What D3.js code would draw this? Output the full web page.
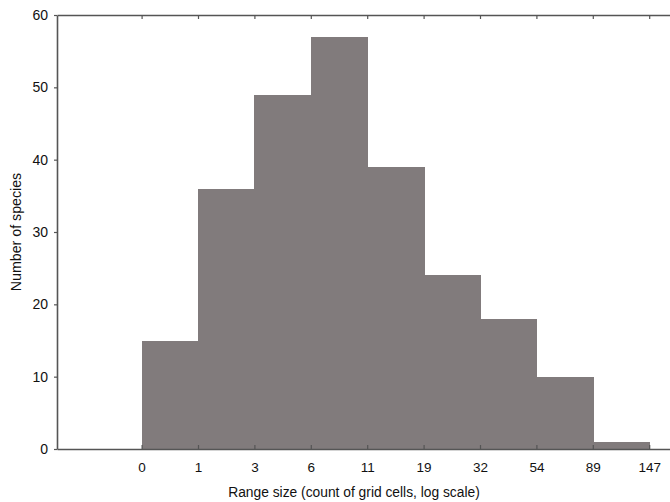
<!DOCTYPE html>
<html><head><meta charset="utf-8">
<script src="https://cdn.jsdelivr.net/npm/d3@7"></script>
<style>body{margin:0;background:#fff}svg{display:block}text{font-family:"Liberation Sans",Arial,sans-serif;fill:#111}</style>
</head><body><svg id="c" width="670" height="502"></svg>
<script>
const binLabels = ["0","1","3","6","11","19","32","54","89","147"];
const counts = [15,36,49,57,39,24,18,10,1];
const yTicks = [0,10,20,30,40,50,60];

const svg = d3.select("#c");
const x = d3.scaleLinear().domain([-1.5,10.5]).range([57,733.8]);
const y = d3.scaleLinear().domain([0,60]).range([449,15]);
const axisColor = "#555";

svg.append("g").attr("shape-rendering","crispEdges").selectAll("rect").data(counts).join("rect")
  .attr("x",(d,i)=>x(i)).attr("width",(d,i)=>x(i+1)-x(i)+1)
  .attr("y",d=>y(d)).attr("height",d=>y(0)-y(d))
  .attr("fill","#817b7c");

// bottom axis
const xb = svg.append("g").attr("transform",`translate(0,${y(0)})`)
  .call(d3.axisBottom(x).tickValues(d3.range(binLabels.length)).tickFormat(i=>binLabels[i]).tickSizeInner(-4).tickSizeOuter(0).tickPadding(13));
// top axis
const xt = svg.append("g").attr("transform",`translate(0,${y(60)})`)
  .call(d3.axisTop(x).tickValues(d3.range(binLabels.length)).tickFormat("").tickSizeInner(-4).tickSizeOuter(0));
// left axis
const yl = svg.append("g").attr("transform",`translate(${x(-1.5)},0)`)
  .call(d3.axisLeft(y).tickValues(yTicks).tickSizeInner(3).tickSizeOuter(0).tickPadding(6));

[xb,xt,yl].forEach(g=>{
  g.select(".domain").attr("stroke",axisColor).attr("stroke-width",1.6);
  g.selectAll(".tick line").attr("stroke",axisColor).attr("stroke-width",1.2);
  g.selectAll(".tick text").attr("font-size",13.5).attr("fill","#111");
});
yl.selectAll(".tick text").attr("font-size",14);

svg.append("text").attr("x",354).attr("y",497).attr("text-anchor","middle")
  .attr("font-size",13.8).text("Range size (count of grid cells, log scale)");
svg.append("text").attr("transform","translate(21,232) rotate(-90)").attr("text-anchor","middle")
  .attr("font-size",14.2).text("Number of species");
</script></body></html>
